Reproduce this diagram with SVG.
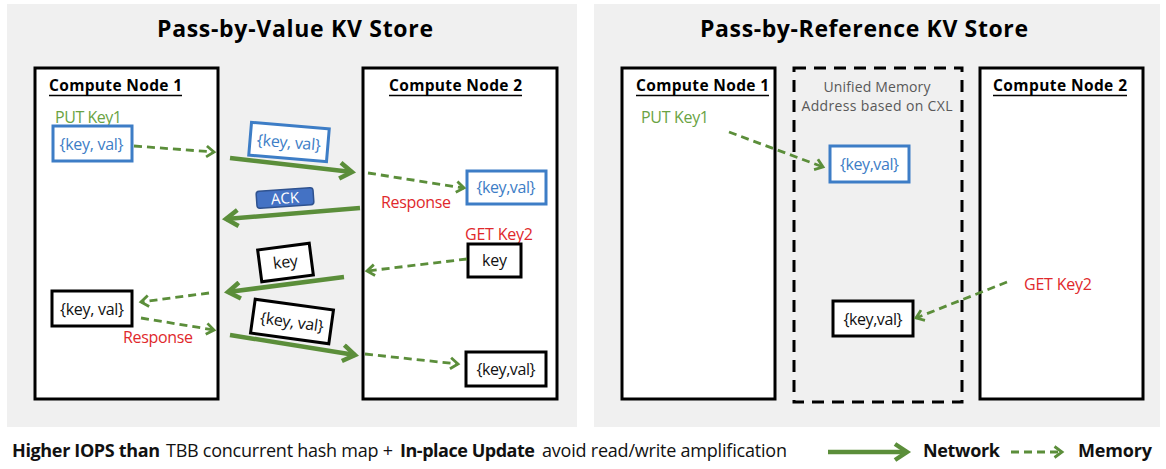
<svg xmlns="http://www.w3.org/2000/svg" width="1166" height="469" viewBox="0 0 1166 469">
<defs>
<style>
text{font-family:"Open Sans","Liberation Sans",Arial,sans-serif;}
.panel{fill:#f0f0f0;}
.node{fill:#fff;stroke:#000;stroke-width:3;}
.title{font-size:23px;font-weight:bold;fill:#000;text-anchor:middle;}
.cn{font-size:15.5px;font-weight:bold;fill:#000;}
.ul{stroke:#000;stroke-width:1.5;}
.green{font-size:16px;fill:#6aa343;}
.red{font-size:16px;fill:#e0282c;}
.gray{font-size:14px;fill:#595959;text-anchor:middle;}
.kvb{fill:#fff;stroke:#3d7dc6;stroke-width:3;}
.kvk{fill:#fff;stroke:#000;stroke-width:3;}
.tb{font-size:16px;fill:#3d7dc6;text-anchor:middle;}
.tk{font-size:16px;fill:#111;text-anchor:middle;}
.net{stroke:#5b8e3a;stroke-width:4.5;fill:none;marker-end:url(#ahNet);}
.mem{stroke:#5b8e3a;stroke-width:2.8;fill:none;stroke-dasharray:8 5;marker-end:url(#ahMem);}
.foot{font-size:18px;fill:#111;}
.legend{font-size:18px;font-weight:bold;fill:#111;}
</style>
<marker id="ahNet" viewBox="0 0 20 20" refX="15" refY="10" markerWidth="20" markerHeight="20" markerUnits="userSpaceOnUse" orient="auto">
<path d="M3,2 L15,10 L3,18" fill="none" stroke="#5b8e3a" stroke-width="4.5"/>
</marker>
<marker id="ahMem" viewBox="0 0 14 14" refX="10.5" refY="7" markerWidth="14" markerHeight="14" markerUnits="userSpaceOnUse" orient="auto">
<path d="M3,1.5 L10.5,7 L3,12.5" fill="none" stroke="#5b8e3a" stroke-width="2.8"/>
</marker>
</defs>
<rect width="1166" height="469" fill="#fff"/>

<g id="panel-value">
<rect class="panel" x="7" y="4" width="570" height="423"/>
<text class="title" x="295" y="37" textLength="276">Pass-by-Value KV Store</text>
</g>
<g id="panel-reference">
<rect class="panel" x="594" y="4" width="566" height="423"/>
<text class="title" x="864" y="37" textLength="328">Pass-by-Reference KV Store</text>
</g>

<g id="pv-node1">
<rect class="node" x="35" y="68" width="183" height="331"/>
<text class="cn" x="49" y="91" textLength="133">Compute Node 1</text>
<line class="ul" x1="49" y1="95.5" x2="182" y2="95.5"/>
<text class="green" x="55" y="123" textLength="67">PUT Key1</text>
</g>
<g id="pv-node1-kv-put">
<rect class="kvb" x="53" y="126" width="79" height="35"/>
<text class="tb" x="91.5" y="149.5" textLength="64">{key, val}</text>
</g>
<g id="pv-node1-kv-get">
<rect class="kvk" x="52" y="291" width="80" height="35"/>
<text class="tk" x="92" y="314.5" textLength="64">{key, val}</text>
</g>
<g id="pv-response1">
<text class="red" x="123" y="343" textLength="70">Response</text>
</g>

<g id="pv-node2">
<rect class="node" x="363" y="68" width="194" height="331"/>
<text class="cn" x="389" y="91" textLength="133">Compute Node 2</text>
<line class="ul" x1="389" y1="95.5" x2="522" y2="95.5"/>
<text class="red" x="381" y="208" textLength="70">Response</text>
<text class="red" x="465" y="240" textLength="68">GET Key2</text>
</g>
<g id="pv-node2-kv-put">
<rect class="kvb" x="467" y="171" width="79" height="33"/>
<text class="tb" x="506" y="193" textLength="59">{key,val}</text>
</g>
<g id="pv-node2-key">
<rect class="kvk" x="468" y="244" width="53" height="33"/>
<text class="tk" x="494.5" y="266" textLength="25">key</text>
</g>
<g id="pv-node2-kv-get">
<rect class="kvk" x="466" y="352" width="80" height="34"/>
<text class="tk" x="506" y="374.5" textLength="59">{key,val}</text>
</g>

<g id="msg-put">
<g transform="translate(289,142) rotate(4.8)">
<rect class="kvb" x="-39" y="-16.5" width="78" height="33"/>
<text class="tb" x="0" y="6" textLength="64">{key, val}</text>
</g>
</g>
<g id="msg-ack">
<g transform="translate(285,198) rotate(-4)">
<rect x="-28.5" y="-8.5" width="57" height="17" rx="3" fill="#4472c4" stroke="#2f528f" stroke-width="1.5"/>
<text x="0" y="5.5" font-size="15" fill="#fff" text-anchor="middle">ACK</text>
</g>
</g>
<g id="msg-key">
<g transform="translate(285.5,262.5) rotate(-7.4)">
<rect class="kvk" x="-26" y="-16" width="52" height="32"/>
<text class="tk" x="0" y="5" textLength="25">key</text>
</g>
</g>
<g id="msg-kv">
<g transform="translate(292,321.5) rotate(7.9)">
<rect class="kvk" x="-39.5" y="-17" width="79" height="34"/>
<text class="tk" x="0" y="6" textLength="64">{key, val}</text>
</g>
</g>

<g id="pr-node1">
<rect class="node" x="622" y="68" width="153" height="331"/>
<text class="cn" x="636" y="91" textLength="133">Compute Node 1</text>
<line class="ul" x1="636" y1="95.5" x2="769" y2="95.5"/>
<text class="green" x="641" y="123" textLength="68">PUT Key1</text>
</g>
<g id="pr-cxl">
<rect x="794" y="68" width="168" height="334" fill="none" stroke="#000" stroke-width="3" stroke-dasharray="12 8"/>
<text class="gray" x="877" y="92" textLength="107">Unified Memory</text>
<text class="gray" x="877" y="111" textLength="151">Address based on CXL</text>
</g>
<g id="pr-kv-put">
<rect class="kvb" x="830" y="146" width="79" height="36"/>
<text class="tb" x="869.5" y="169.5" textLength="59">{key,val}</text>
</g>
<g id="pr-kv-get">
<rect class="kvk" x="833" y="301" width="80" height="35"/>
<text class="tk" x="873" y="324.5" textLength="59">{key,val}</text>
</g>
<g id="pr-node2">
<rect class="node" x="980" y="68" width="163" height="331"/>
<text class="cn" x="993" y="91" textLength="134">Compute Node 2</text>
<line class="ul" x1="993" y1="95.5" x2="1127" y2="95.5"/>
<text class="red" x="1024" y="290" textLength="68">GET Key2</text>
</g>

<g id="connectors">
<line class="net" x1="230" y1="158" x2="352" y2="172"/>
<line class="net" x1="360" y1="208" x2="226" y2="219"/>
<line class="net" x1="344" y1="277" x2="228" y2="292"/>
<line class="net" x1="230" y1="335" x2="355" y2="355"/>
<line class="mem" x1="134" y1="146" x2="214" y2="152"/>
<line class="mem" x1="368" y1="173" x2="464" y2="188"/>
<line class="mem" x1="467" y1="259" x2="367" y2="271"/>
<line class="mem" x1="209" y1="293" x2="141" y2="302"/>
<line class="mem" x1="141" y1="318" x2="214" y2="330"/>
<line class="mem" x1="365" y1="354" x2="458" y2="364"/>
<line class="mem" x1="729" y1="132" x2="823" y2="167"/>
<line class="mem" x1="1007" y1="282" x2="916" y2="318"/>
</g>

<g id="footer">
<text class="foot" y="457"><tspan x="12" font-weight="bold" textLength="148">Higher IOPS than</tspan><tspan x="166" textLength="227">TBB concurrent hash map +</tspan><tspan x="400" font-weight="bold" textLength="135">In-place Update</tspan><tspan x="542" textLength="245">avoid read/write amplification</tspan></text>
</g>
<g id="legend">
<line class="net" x1="828" y1="452" x2="907" y2="452"/>
<text class="legend" x="923" y="457" textLength="77">Network</text>
<line class="mem" x1="1011" y1="452" x2="1062" y2="452"/>
<text class="legend" x="1078" y="457" textLength="74">Memory</text>
</g>
</svg>
